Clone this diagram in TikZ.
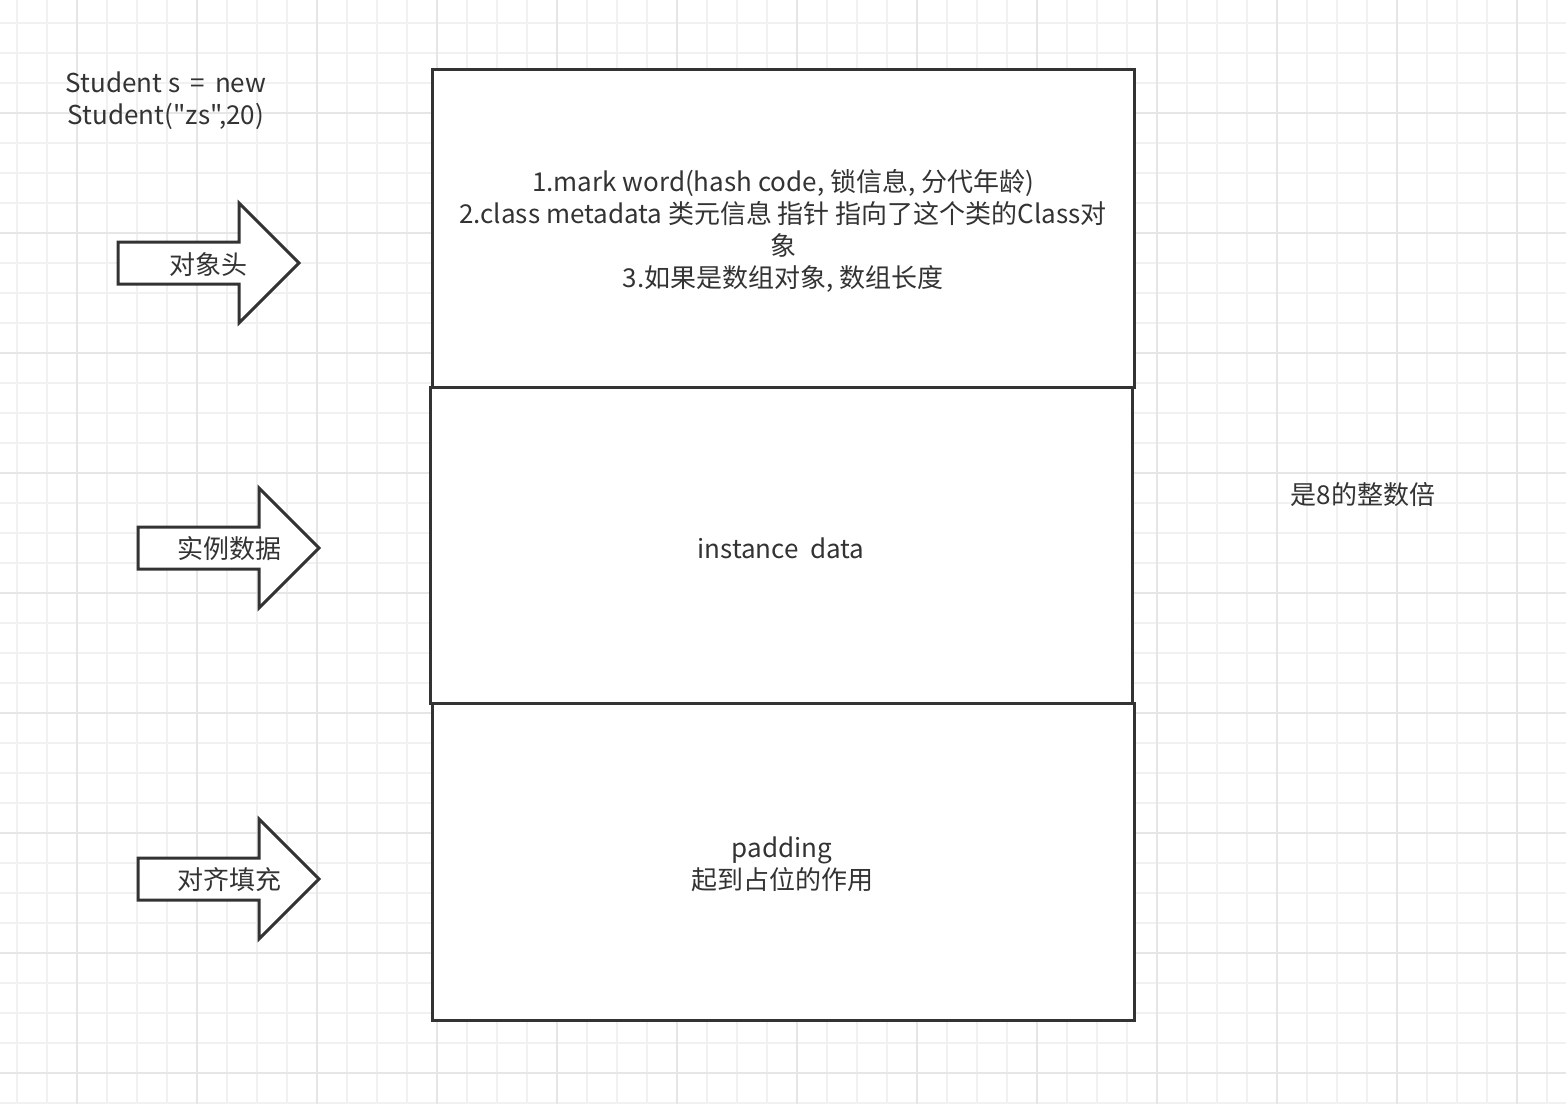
\documentclass[tikz,border=0pt]{standalone}
\usepackage{fontspec}
\setmainfont{Noto Sans CJK SC}[Ligatures=TeXOff]
\begin{document}
\begin{tikzpicture}[x=1pt,y=-1pt,
  ink/.style={draw=inkgrey,line width=3pt,line join=miter},
  txt/.style={text=inkgrey,font=\fontsize{26}{32}\selectfont,align=center,inner sep=0pt},
  layer/.style={ink,fill=white},
  bigarrow/.style={ink,fill=white}]
\definecolor{inkgrey}{HTML}{333333}
\definecolor{gridminor}{HTML}{F1F1F1}
\definecolor{gridmajor}{HTML}{E6E6E6}
\useasboundingbox (0,0) rectangle (1566,1104);
\fill[white] (0,0) rectangle (1566,1104);
% background grid
\foreach \gx in {17,47,...,1565} \draw[gridminor,line width=1.2pt] (\gx,0) -- (\gx,1104);
\foreach \gy in {23,53,...,1103} \draw[gridminor,line width=1.2pt] (0,\gy) -- (1566,\gy);
\foreach \gx in {77,197,...,1565} \draw[gridmajor,line width=1.4pt] (\gx,0) -- (\gx,1104);
\foreach \gy in {113,233,...,1103} \draw[gridmajor,line width=1.4pt] (0,\gy) -- (1566,\gy);

% object layout blocks
\draw[layer] (432,69) rectangle (1134,387);
\draw[layer] (430,387) rectangle (1132,703);
\draw[layer] (432,703) rectangle (1134,1020);
\node[txt] (hdr) at (783,230.5) {1.mark word(hash code, 锁信息, 分代年龄)\\
2.class metadata 类元信息 指针 指向了这个类的Class对\\象\\3.如果是数组对象, 数组长度};
\node[txt] (inst) at (781,548) {instance\ \ data};
\node[txt] (pad) at (782,864) {padding\\起到占位的作用};

% block arrows
\draw[bigarrow] (118,242) -- (239,242) -- (239,203) -- (299,263) -- (239,323) -- (239,284) -- (118,284) -- cycle;
\draw[bigarrow] (138,527) -- (259,527) -- (259,488) -- (319,548) -- (259,608) -- (259,569) -- (138,569) -- cycle;
\draw[bigarrow] (138,858) -- (259,858) -- (259,819) -- (319,879) -- (259,939) -- (259,900) -- (138,900) -- cycle;
\node[txt] (a1) at (208,265) {对象头};
\node[txt] (a2) at (229,549) {实例数据};
\node[txt] (a3) at (229,880) {对齐填充};

% free labels
\node[txt] (code) at (166,101) {Student s \,=\, new\\Student("zs",20)};
\node[txt] (note) at (1363,495) {是8的整数倍};
\end{tikzpicture}
\end{document}
